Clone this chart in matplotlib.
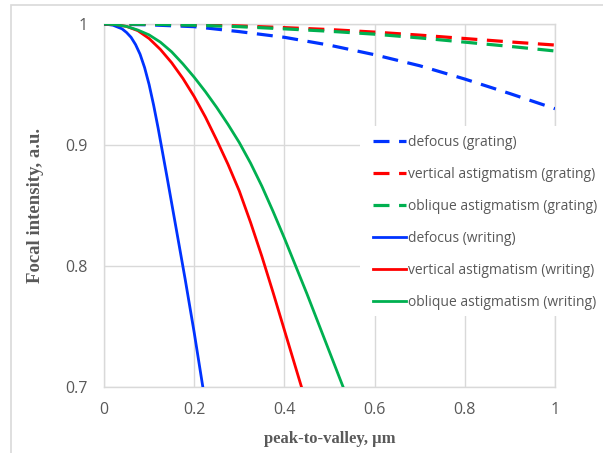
import numpy as np
import matplotlib
matplotlib.use("Agg")
from matplotlib import pyplot as plt
from matplotlib.patches import Rectangle

# grating (dashed) curves, sampled every 0.1 um
x_grating = [0.0, 0.1, 0.2, 0.3, 0.4, 0.5, 0.6, 0.7, 0.8, 0.9, 1.0]
defocus_grating = [1.0, 0.9993, 0.9978, 0.9937, 0.9890, 0.9825, 0.9746, 0.9655, 0.9545, 0.9425, 0.9300]
vert_astig_grating = [1.0, 1.0, 0.9993, 0.9984, 0.9970, 0.9954, 0.9933, 0.9908, 0.9880, 0.9852, 0.9826]
obl_astig_grating = [1.0, 0.9998, 0.9990, 0.9978, 0.9960, 0.9940, 0.9916, 0.9885, 0.9850, 0.9815, 0.9777]

# writing (solid) curves
x_defocus_writing = [0.0, 0.02, 0.04, 0.05, 0.06, 0.07, 0.08, 0.09, 0.10, 0.11, 0.12,
                     0.14, 0.16, 0.18, 0.20, 0.22]
defocus_writing = [1.0, 0.999, 0.996, 0.993, 0.989, 0.983, 0.975, 0.964, 0.950, 0.933, 0.914,
                   0.873, 0.831, 0.789, 0.745, 0.698]
x_astig_writing = [0.0, 0.025, 0.05, 0.075, 0.1, 0.125, 0.15, 0.175, 0.2, 0.225, 0.25,
                   0.275, 0.3, 0.325, 0.35, 0.375, 0.4, 0.425, 0.45, 0.475, 0.5, 0.525, 0.55]
vert_astig_writing = [1.0, 0.9995, 0.998, 0.9945, 0.988, 0.979, 0.968, 0.955, 0.940, 0.923, 0.904,
                      0.884, 0.862, 0.836, 0.808, 0.778, 0.747, 0.716, 0.685, 0.654, 0.623, 0.592, 0.561]
obl_astig_writing = [1.0, 0.9995, 0.998, 0.995, 0.991, 0.985, 0.977, 0.967, 0.956, 0.944, 0.931,
                     0.917, 0.902, 0.885, 0.866, 0.845, 0.823, 0.800, 0.777, 0.753, 0.729, 0.705, 0.681]

x_ticks = [0, 0.2, 0.4, 0.6, 0.8, 1]
x_ticklabels = ["0", "0.2", "0.4", "0.6", "0.8", "1"]
y_ticks = [0.7, 0.8, 0.9, 1.0]
y_ticklabels = ["0.7", "0.8", "0.9", "1"]

BLUE = "#0033ff"
RED = "#ff0000"
GREEN = "#00b050"
GRAY_TXT = "#595959"
GRID = "#d9d9d9"

plt.rcParams["font.family"] = ["Open Sans", "DejaVu Sans"]

fig = plt.figure(figsize=(6.03, 4.53), dpi=100)
fig.patches.append(Rectangle((11 / 603, -0.1), 1.2, (453 - 5) / 453 + 0.1,
                             transform=fig.transFigure, fill=False,
                             edgecolor=GRID, linewidth=1.2))
ax = fig.add_axes([104 / 603, 1 - 387 / 453, 451 / 603, 363 / 453])

dash = (5, 3)
lines = [
    (x_grating, defocus_grating, BLUE, True, "defocus (grating)"),
    (x_grating, vert_astig_grating, RED, True, "vertical astigmatism (grating)"),
    (x_grating, obl_astig_grating, GREEN, True, "oblique astigmatism (grating)"),
    (x_defocus_writing, defocus_writing, BLUE, False, "defocus (writing)"),
    (x_astig_writing, vert_astig_writing, RED, False, "vertical astigmatism (writing)"),
    (x_astig_writing, obl_astig_writing, GREEN, False, "oblique astigmatism (writing)"),
]
for xs, ys, col, dashed, lab in lines:
    if dashed:
        ax.plot(xs, ys, color=col, lw=2.3, dashes=dash, label=lab, zorder=4)
    else:
        ax.plot(xs, ys, color=col, lw=2.0, label=lab, zorder=4,
                solid_joinstyle="round")

ax.set_xlim(0, 1)
ax.set_ylim(0.7, 1)
ax.set_xticks(x_ticks, x_ticklabels)
ax.set_yticks(y_ticks, y_ticklabels)
ax.tick_params(length=0, labelsize=11.5, labelcolor=GRAY_TXT)
ax.tick_params(axis="x", pad=11)
ax.tick_params(axis="y", pad=12)
ax.grid(color=GRID, lw=1)
ax.set_axisbelow(True)
for s in ax.spines.values():
    s.set_color(GRID)
    s.set_linewidth(1)

ax.set_xlabel("peak-to-valley, \u00b5m", family="Liberation Serif", weight="bold",
              fontsize=12, color=GRAY_TXT, labelpad=9)
ax.set_ylabel("Focal intensity, a.u.", family="Liberation Serif", weight="bold",
              fontsize=13.5, color=GRAY_TXT, labelpad=15)

# white legend area, covering grid and right spine like the original
ax.add_patch(Rectangle((256 / 451, 71 / 363), 243 / 451, 190 / 363,
                       transform=ax.transAxes, facecolor="white",
                       edgecolor="none", clip_on=False, zorder=3))
leg = ax.legend(loc="upper left", bbox_to_anchor=(269 / 451, 252 / 363),
                borderaxespad=0, borderpad=0, frameon=False, fontsize=10,
                handlelength=2.4, handletextpad=0.1, labelspacing=1.22,
                labelcolor=GRAY_TXT)
leg.set_zorder(5)

fig.savefig("out.png", dpi=100)
